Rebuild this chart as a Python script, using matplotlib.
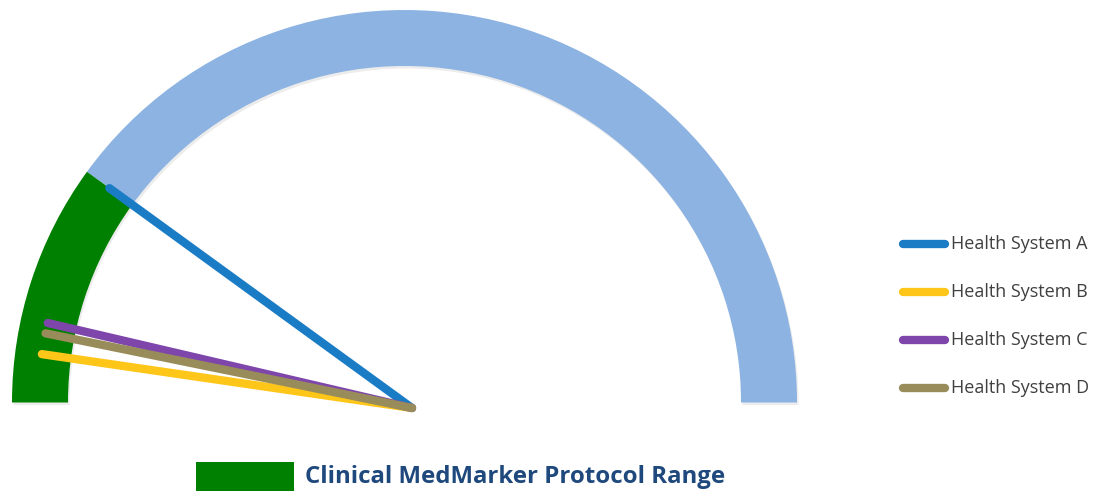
import numpy as np
import matplotlib
matplotlib.use('Agg')
import matplotlib.pyplot as plt
from matplotlib.patches import Wedge, Rectangle

# gauge scale and the protocol range
gauge_min = 0
gauge_max = 100
protocol_range = (0, 20)

# readings of each health system
systems = ['Health System A', 'Health System B', 'Health System C', 'Health System D']
readings = [20, 4.6, 7.3, 6.4]
needle_colors = ['#1B7CC6', '#FFC61A', '#7E46AA', '#988C5A']
draw_order = [0, 1, 2, 3]

range_label = 'Clinical MedMarker Protocol Range'

def value_to_angle(v):
    # 0 on the left (180 deg), max on the right (0 deg)
    return 180 - (v - gauge_min) / (gauge_max - gauge_min) * 180

fig = plt.figure(figsize=(11.03, 4.91), dpi=100)
ax = fig.add_axes([0, 0, 1, 1])
ax.set_xlim(0, 1103)
ax.set_ylim(0, 491)
ax.axis('off')

cx, cy = 404.5, 88.5
R, band = 392.5, 56

lo_ang = value_to_angle(protocol_range[1])
hi_ang = value_to_angle(protocol_range[0])

# soft shadow under the band
ax.add_patch(Wedge((cx + 1.5, cy - 2.5), R, 0, 180, width=band, color='#d0d0d0', alpha=0.4, lw=0))
ax.add_patch(Wedge((cx, cy), R, 0, lo_ang, width=band, color='#8DB3E2', lw=0))
ax.add_patch(Wedge((cx, cy), R, lo_ang, hi_ang, width=band, color='#008000', lw=0))

# needles
px, py = 412, 83
needle_len = 374
for i in draw_order:
    a = np.deg2rad(value_to_angle(readings[i]))
    ax.plot([px, px + needle_len * np.cos(a)], [py, py + needle_len * np.sin(a)],
            color=needle_colors[i], lw=6, solid_capstyle='round', zorder=3 + i)

# legend on the right
for i, name in enumerate(systems):
    y = 247 - i * 48
    ax.plot([902.5, 944.5], [y, y], color=needle_colors[i], lw=6, solid_capstyle='round')
    ax.text(951, y, name, fontsize=13, family='Open Sans', color='#404040', va='center', ha='left')

# protocol range key at the bottom
ax.add_patch(Rectangle((196, 0), 98, 29, color='#008000', lw=0))
ax.text(305, 14, range_label, fontsize=17.3, family='Open Sans', fontweight='bold',
        color='#1F497D', va='center', ha='left')

plt.savefig('out.png', dpi=100)
